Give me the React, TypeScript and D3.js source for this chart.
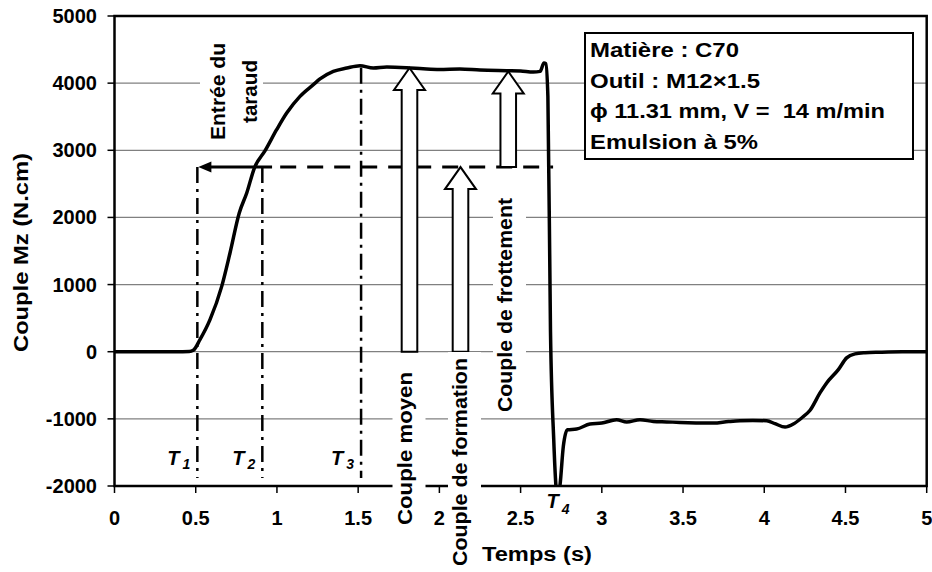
import React from 'react';
import * as d3 from 'd3';

// ---- data ----
const timeS = [0, 0.42, 0.46, 0.485, 0.526, 0.588, 0.66, 0.711, 0.768, 0.814, 0.861, 0.927, 0.998, 1.06, 1.142, 1.224, 1.265, 1.347, 1.43, 1.511, 1.593, 1.676, 1.8, 1.9, 2.0, 2.126, 2.25, 2.414, 2.5, 2.578, 2.62, 2.644, 2.655, 2.668, 2.684, 2.704, 2.717, 2.728, 2.743, 2.763, 2.788, 2.845, 2.927, 3.0, 3.091, 3.153, 3.235, 3.317, 3.4, 3.481, 3.58, 3.686, 3.78, 3.851, 3.93, 4.015, 4.066, 4.128, 4.179, 4.23, 4.282, 4.343, 4.384, 4.456, 4.507, 4.559, 4.62, 4.712, 4.85, 5.0];
const torque = [0, 0, 2, 20, 179, 477, 973, 1470, 2066, 2364, 2736, 2994, 3306, 3555, 3803, 3977, 4062, 4175, 4225, 4260, 4225, 4240, 4230, 4215, 4205, 4210, 4195, 4185, 4180, 4165, 4175, 4300, 4290, 3800, 300, -1310, -1980, -2200, -1980, -1410, -1162, -1152, -1077, -1063, -1013, -1048, -1013, -1038, -1045, -1053, -1060, -1063, -1040, -1028, -1025, -1028, -1072, -1122, -1077, -987, -872, -614, -465, -266, -92, -32, -15, -7, 0, 0];

const xTicks = [0, 0.5, 1, 1.5, 2, 2.5, 3, 3.5, 4, 4.5, 5];
const xTickLabels = ['0', '0.5', '1', '1.5', '2', '2.5', '3', '3.5', '4', '4.5', '5'];
const yTicks = [-2000, -1000, 0, 1000, 2000, 3000, 4000, 5000];
const yTickLabels = ['-2000', '-1000', '0', '1000', '2000', '3000', '4000', '5000'];
const gridValues = [-1000, 0, 1000, 2000, 3000, 4000];

const legendLines = ['Matière : C70', 'Outil : M12×1.5', 'ϕ 11.31 mm, V =  14 m/min', 'Emulsion à 5%'];

const markTimes = [0.51, 0.91, 1.518];
const markTops = [2750, 2750, 4230];
const markBottom = -1880;
const markSubs = ['1', '2', '3'];
const t4Time = 2.7;

const refLevel = 2750;
const refSolidEnd = 0.97;
const refDashStart = 1.02;
const refDashEnd = 2.7;

const arrowTimes = [1.816, 2.13, 2.424];
const arrowFrom = [0, 0, 2750];
const arrowTo = [4225, 2750, 4175];
const arrowLabels = ['Couple moyen', 'Couple de formation', 'Couple de frottement'];

// ---- layout ----
const W = 932, H = 572;
const M = { left: 114.5, right: 926.7, top: 16, bottom: 486 };
const FONT = "'Liberation Sans', Arial, Helvetica, sans-serif";
const arrowLabelLayout = [
  { bx: 411.5, cy: 448.5, len: 153 },
  { bx: 467, cy: 462, len: 208 },
  { bx: 512, cy: 305, len: 214 },
];

export default function App() {
  const x = d3.scaleLinear().domain([0, 5]).range([M.left, M.right]);
  const y = d3.scaleLinear().domain([-2000, 5000]).range([M.bottom, M.top]);
  const line = d3.line<number>()
    .x((_, i) => x(timeS[i]))
    .y((d) => y(d))
    .curve(d3.curveMonotoneX);
  const pathD = line(torque) || '';

  const sw = 15.6, hw = 31, hl = 22;
  const blockArrow = (cx: number, yb: number, yt: number) =>
    `M${cx - sw / 2},${yb} L${cx - sw / 2},${yt + hl} L${cx - hw / 2},${yt + hl} L${cx},${yt} L${cx + hw / 2},${yt + hl} L${cx + sw / 2},${yt + hl} L${cx + sw / 2},${yb} Z`;

  const yRef = y(refLevel);

  return (
    <svg width={W} height={H} style={{ position: 'absolute', left: 0, top: 0, background: '#fff' }} fontFamily={FONT}>
      <defs>
        <clipPath id="plotClip">
          <rect x={M.left} y={M.top} width={M.right - M.left} height={M.bottom - M.top} />
        </clipPath>
      </defs>
      <rect x={0} y={0} width={W} height={H} fill="#fff" />
      {/* grid */}
      {gridValues.map((v) => (
        <line key={v} x1={M.left} x2={M.right} y1={y(v)} y2={y(v)} stroke="#808080" strokeWidth={1.2} />
      ))}
      {/* frame */}
      <rect x={M.left} y={M.top} width={M.right - M.left} height={M.bottom - M.top} fill="none" stroke="#000" strokeWidth={2.5} />
      {/* x ticks */}
      {xTicks.map((t, i) => (
        <g key={t}>
          <line x1={x(t)} x2={x(t)} y1={M.bottom} y2={M.bottom + 7} stroke="#000" strokeWidth={1.5} />
          <text x={x(t)} y={525} textAnchor="middle" fontSize={20} fontWeight="bold">{xTickLabels[i]}</text>
        </g>
      ))}
      {/* y ticks */}
      {yTicks.map((v, i) => (
        <g key={v}>
          <line x1={M.left - 7} x2={M.left} y1={y(v)} y2={y(v)} stroke="#000" strokeWidth={1.5} />
          <text x={97} y={y(v) + 7} textAnchor="end" fontSize={20} fontWeight="bold">{yTickLabels[i]}</text>
        </g>
      ))}
      {/* axis titles */}
      <text transform="translate(28,252.5) rotate(-90)" textAnchor="middle" fontSize={20} fontWeight="bold"
        textLength={199} lengthAdjust="spacingAndGlyphs">Couple Mz (N.cm)</text>
      <text x={482} y={561} fontSize={20} fontWeight="bold" textLength={110} lengthAdjust="spacingAndGlyphs">Temps (s)</text>

      {/* T marks */}
      {markTimes.map((t, i) => (
        <g key={t}>
          <line x1={x(t)} x2={x(t)} y1={y(markTops[i])} y2={y(markBottom)} stroke="#000" strokeWidth={2.5} strokeDasharray="16,6,3,6" />
          <text x={x(t) - 30} y={465} fontSize={20} fontWeight="bold" fontStyle="italic">
            T<tspan dx={3} dy={4} fontSize={14}>{markSubs[i]}</tspan>
          </text>
        </g>
      ))}
      <text x={x(t4Time) - 6.5} y={508} fontSize={20} fontWeight="bold" fontStyle="italic">
        T<tspan dx={3} dy={6} fontSize={14}>4</tspan>
      </text>

      {/* curve */}
      <path d={pathD} fill="none" stroke="#000" strokeWidth={3.5} strokeLinejoin="round" clipPath="url(#plotClip)" />

      {/* reference level arrow */}
      <line x1={x(markTimes[0]) + 10} x2={x(refSolidEnd)} y1={yRef} y2={yRef} stroke="#000" strokeWidth={3} />
      <path d={`M${x(markTimes[0]) + 1},${yRef} L${x(markTimes[0]) + 14},${yRef - 5.5} L${x(markTimes[0]) + 14},${yRef + 5.5} Z`} fill="#000" />
      <line x1={x(refDashStart)} x2={x(refDashEnd)} y1={yRef} y2={yRef} stroke="#000" strokeWidth={3} strokeDasharray="16,11" />

      {/* block arrows */}
      {arrowTimes.map((t, i) => (
        <path key={t} d={blockArrow(x(t), y(arrowFrom[i]), y(arrowTo[i]))} fill="#fff" stroke="#000" strokeWidth={2} strokeLinejoin="miter" />
      ))}

      {/* arrow labels with white background */}
      {arrowLabels.map((lab, i) => {
        const L = arrowLabelLayout[i];
        return (
          <g key={lab}>
            <rect x={L.bx - 19} y={L.cy - L.len / 2 - 6} width={33} height={L.len + 12} fill="#fff" />
            <text transform={`translate(${L.bx},${L.cy}) rotate(-90)`} textAnchor="middle" fontSize={20} fontWeight="bold"
              textLength={L.len} lengthAdjust="spacingAndGlyphs">{lab}</text>
          </g>
        );
      })}

      {/* Entrée du taraud */}
      <rect x={200} y={38} width={63} height={107} fill="#fff" />
      <text transform="translate(225,91.5) rotate(-90)" textAnchor="middle" fontSize={20} fontWeight="bold"
        textLength={97} lengthAdjust="spacingAndGlyphs">Entrée du</text>
      <text transform="translate(256.5,91.5) rotate(-90)" textAnchor="middle" fontSize={20} fontWeight="bold"
        textLength={63} lengthAdjust="spacingAndGlyphs">taraud</text>

      {/* legend box */}
      <rect x={585} y={33} width={328} height={126} fill="#fff" stroke="#000" strokeWidth={2} />
      {legendLines.map((s, i) => (
        <text key={i} x={590} y={57 + i * 30.5} fontSize={20} fontWeight="bold" style={{ whiteSpace: 'pre' }}
          textLength={[149, 170, 295, 168][i]} lengthAdjust="spacingAndGlyphs">{s}</text>
      ))}
    </svg>
  );
}
